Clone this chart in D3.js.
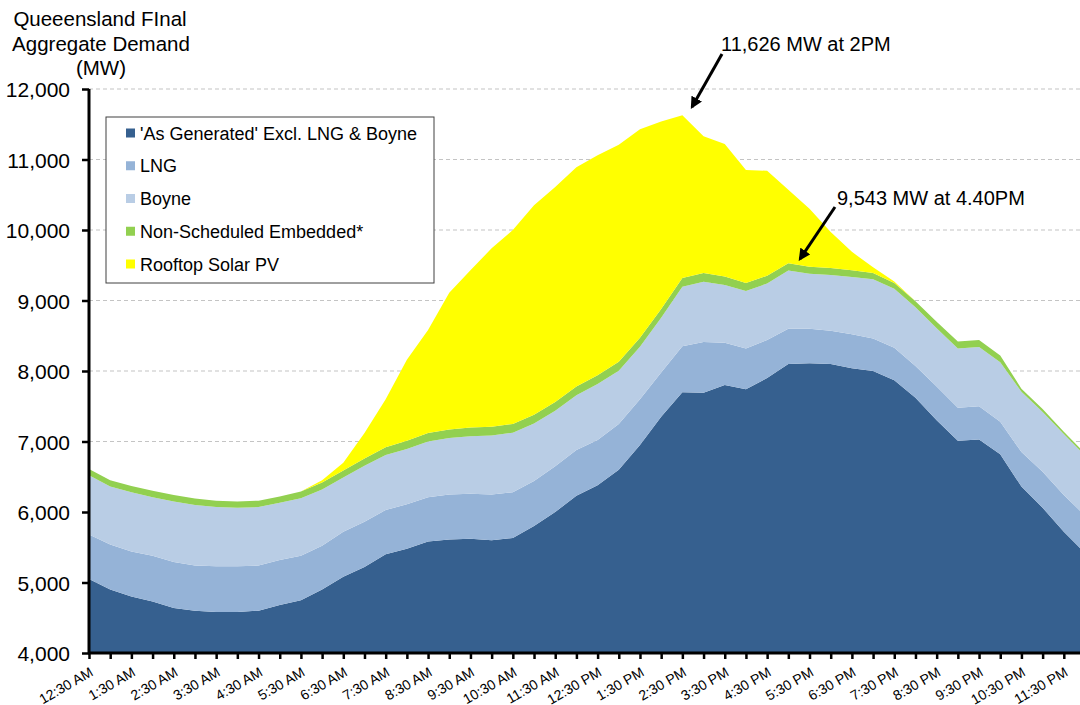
<!DOCTYPE html>
<html>
<head>
<meta charset="utf-8">
<title>Queensland final aggregate demand</title>
<script src="https://cdn.jsdelivr.net/npm/d3@7"></script>
<style>
  body { margin: 0; background: #fff; }
  svg { display: block; font-family: "Liberation Sans", Arial, sans-serif; }
</style>
</head>
<body>
<script>
  // half-hourly periods
  const times = ["12:30 AM", "1:00 AM", "1:30 AM", "2:00 AM", "2:30 AM", "3:00 AM", "3:30 AM", "4:00 AM",
    "4:30 AM", "5:00 AM", "5:30 AM", "6:00 AM", "6:30 AM", "7:00 AM", "7:30 AM", "8:00 AM",
    "8:30 AM", "9:00 AM", "9:30 AM", "10:00 AM", "10:30 AM", "11:00 AM", "11:30 AM", "12:00 PM",
    "12:30 PM", "1:00 PM", "1:30 PM", "2:00 PM", "2:30 PM", "3:00 PM", "3:30 PM", "4:00 PM",
    "4:30 PM", "5:00 PM", "5:30 PM", "6:00 PM", "6:30 PM", "7:00 PM", "7:30 PM", "8:00 PM",
    "8:30 PM", "9:00 PM", "9:30 PM", "10:00 PM", "10:30 PM", "11:00 PM", "11:30 PM", "12:00 AM"];

  // MW values
  const asGenerated = [5050, 4900, 4800, 4730, 4640, 4600, 4580, 4580, 4600, 4680, 4750, 4900,
    5080, 5220, 5400, 5480, 5580, 5610, 5620, 5600, 5630, 5800, 6000, 6230,
    6380, 6600, 6950, 7350, 7700, 7690, 7800, 7740, 7900, 8100, 8110, 8100,
    8040, 8000, 7870, 7620, 7300, 7010, 7030, 6820, 6360, 6060, 5720, 5420];
  const lng = [630, 640, 640, 650, 650, 640, 650, 650, 640, 640, 630, 620,
    640, 640, 630, 630, 630, 640, 640, 650, 650, 640, 650, 650,
    640, 650, 650, 630, 650, 720, 600, 580, 540, 500, 490, 470,
    480, 460, 460, 450, 480, 470, 470, 460, 490, 510, 520, 530];
  const boyne = [840, 820, 840, 830, 860, 860, 840, 830, 830, 810, 815, 800,
    770, 795, 780, 785, 790, 800, 815, 835, 845, 815, 785, 775,
    795, 755, 745, 775, 845, 855, 820, 815, 800, 825, 780, 790,
    815, 840, 835, 835, 825, 840, 840, 845, 855, 850, 865, 850];
  const nonScheduled = [90, 90, 90, 90, 90, 90, 90, 90, 90, 90, 95, 100,
    100, 105, 110, 115, 120, 120, 125, 125, 125, 125, 125, 125,
    125, 125, 125, 125, 125, 125, 120, 115, 110, 105, 100, 100,
    95, 90, 85, 85, 95, 100, 100, 95, 45, 40, 35, 30];
  const rooftopSolar = [0, 0, 0, 0, 0, 0, 0, 0, 0, 0, 0, 30,
    110, 360, 680, 1150, 1460, 1940, 2230, 2530, 2750, 2970, 3050, 3110,
    3120, 3080, 2960, 2660, 2306, 1940, 1880, 1600, 1490, 1040, 820, 510,
    260, 80, 20, 0, 0, 0, 0, 0, 0, 0, 0, 0];

  const seriesNames = ["'As Generated' Excl. LNG & Boyne", "LNG", "Boyne", "Non-Scheduled Embedded*", "Rooftop Solar PV"];
  const colors = ["#36608f", "#95b3d7", "#b9cde5", "#92d050", "#ffff00"];
  const yTicks = [4000, 5000, 6000, 7000, 8000, 9000, 10000, 11000, 12000];

  const w = 1080;
  const h = 705;

  const rows = times.map(function (t, i) {
    return { t: t, s0: asGenerated[i], s1: lng[i], s2: boyne[i], s3: nonScheduled[i], s4: rooftopSolar[i] };
  });
  const keys = ["s0", "s1", "s2", "s3", "s4"];
  const stacked = d3.stack().keys(keys)(rows);

  // x: last point falls just past the right edge like the original
  const x = d3.scalePoint().domain(times).range([89, 1085]);
  const y = d3.scaleLinear().domain([4000, 12000]).range([653, 89]);

  const svg = d3.select("body").append("svg")
    .attr("width", w)
    .attr("height", h);

  // plot area clip (axis starts at 4,000)
  svg.append("defs").append("clipPath")
    .attr("id", "plot")
    .append("rect")
    .attr("x", 89).attr("y", 0)
    .attr("width", w - 89).attr("height", 653);

  // dashed gridlines
  svg.append("g")
    .selectAll("line")
    .data(yTicks.slice(1))
    .enter()
    .append("line")
    .attr("x1", 89).attr("x2", w)
    .attr("y1", d => y(d)).attr("y2", d => y(d))
    .attr("stroke", "#c4c4c4")
    .attr("stroke-width", 1.2)
    .attr("stroke-dasharray", "4,3");

  const area = d3.area()
    .x(d => x(d.data.t))
    .y0(d => y(d[0]))
    .y1(d => y(d[1]));

  svg.append("g")
    .attr("clip-path", "url(#plot)")
    .selectAll("path")
    .data(stacked)
    .enter()
    .append("path")
    .attr("d", area)
    .attr("fill", (d, i) => colors[i]);

  // y axis
  const yAxis = d3.axisLeft(y).tickValues(yTicks).tickSize(7).tickFormat(d3.format(","));
  const gy = svg.append("g").attr("transform", "translate(89,0)").call(yAxis);
  gy.select(".domain").attr("stroke", "#000").attr("stroke-width", 3).attr("d", "M0,89V653");
  gy.selectAll(".tick line").attr("stroke", "#000").attr("stroke-width", 2.5);
  gy.selectAll(".tick text")
    .attr("x", -19)
    .attr("dy", "0.36em")
    .attr("fill", "#000")
    .style("font-size", "21px")
    .style("font-family", "'Liberation Sans', Arial, sans-serif");

  // x axis
  const xAxis = d3.axisBottom(x).tickSize(6).tickFormat("");
  const gx = svg.append("g").attr("transform", "translate(0,653)").call(xAxis);
  gx.select(".domain").attr("stroke", "#000").attr("stroke-width", 3).attr("d", "M88,0H" + w);
  gx.selectAll(".tick line").attr("stroke", "#000").attr("stroke-width", 2.5);

  svg.append("g")
    .selectAll("text")
    .data(times.filter((t, i) => i % 2 === 0))
    .enter()
    .append("text")
    .attr("transform", d => "translate(" + (x(d) + 5) + ",675) rotate(-30)")
    .attr("text-anchor", "end")
    .style("font-size", "14px")
    .text(d => d);

  // axis title
  const title = svg.append("text")
    .attr("text-anchor", "middle")
    .style("font-size", "20.5px");
  title.append("tspan").attr("x", 100).attr("y", 26).text("Queeensland FInal");
  title.append("tspan").attr("x", 101).attr("y", 51).text("Aggregate Demand");
  title.append("tspan").attr("x", 101).attr("y", 75).text("(MW)");

  // legend
  const legend = svg.append("g");
  legend.append("rect")
    .attr("x", 106).attr("y", 117)
    .attr("width", 328).attr("height", 166)
    .attr("fill", "#fff")
    .attr("stroke", "#404040")
    .attr("stroke-width", 1);

  const items = legend.selectAll("g.item")
    .data(seriesNames)
    .enter()
    .append("g")
    .attr("class", "item")
    .attr("transform", (d, i) => "translate(126," + (133 + i * 32.75) + ")");
  items.append("rect")
    .attr("x", 0).attr("y", -4.5)
    .attr("width", 9).attr("height", 9)
    .attr("fill", (d, i) => colors[i]);
  items.append("text")
    .attr("x", 14).attr("y", 6.5)
    .style("font-size", "18px")
    .text(d => d);

  // annotations
  svg.select("defs").append("marker")
    .attr("id", "arrow")
    .attr("viewBox", "0 0 10 10")
    .attr("refX", 8).attr("refY", 5)
    .attr("markerWidth", 4).attr("markerHeight", 4)
    .attr("orient", "auto")
    .append("path")
    .attr("d", "M0,0L10,5L0,10z")
    .attr("fill", "#000");

  const notes = [
    { text: "11,626 MW at 2PM", tx: 721, ty: 51, x1: 722, y1: 54, x2: 692, y2: 107 },
    { text: "9,543 MW at 4.40PM", tx: 837, ty: 205, x1: 835, y1: 207, x2: 800, y2: 259 }
  ];
  notes.forEach(function (n) {
    svg.append("line")
      .attr("x1", n.x1).attr("y1", n.y1)
      .attr("x2", n.x2).attr("y2", n.y2)
      .attr("stroke", "#000")
      .attr("stroke-width", 3)
      .attr("marker-end", "url(#arrow)");
    svg.append("text")
      .attr("x", n.tx).attr("y", n.ty)
      .style("font-size", "20px")
      .text(n.text);
  });
</script>
</body>
</html>
